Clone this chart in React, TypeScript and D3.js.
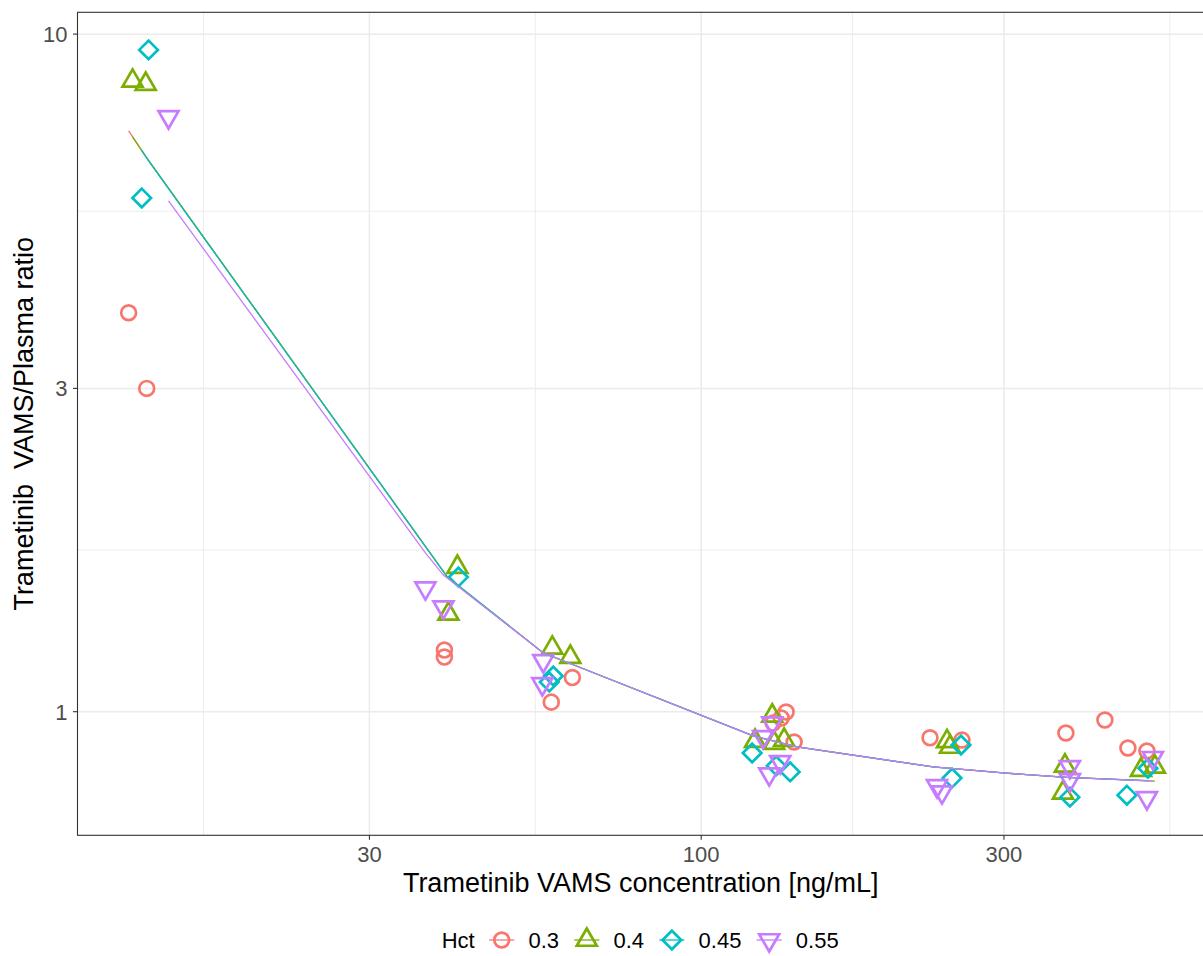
import React from 'react';
import * as d3 from 'd3';

// ---------- data ----------
const hctLevels = ['0.3', '0.4', '0.45', '0.55'];
const hctColors = ['#F8766D', '#7CAE00', '#00BFC4', '#C77CFF'];
const hctShapes = ['circle', 'triangle', 'diamond', 'triangleDown'];

// observed points: [VAMS concentration ng/mL, VAMS/Plasma ratio]
const obsHct03: [number, number][] = [
  [12.52, 3.88], [13.37, 3.0], [39.38, 1.233], [39.38, 1.204], [58.04, 1.033], [62.65, 1.123],
  [136.1, 0.999], [133.7, 0.979], [129.8, 0.962], [140.1, 0.902], [229.4, 0.915], [257.6, 0.908],
  [375.6, 0.93], [432.7, 0.972], [470.4, 0.884], [504.0, 0.875],
];
const obsHct04: [number, number][] = [
  [12.7, 8.53], [13.32, 8.44], [41.28, 1.635], [39.96, 1.394], [58.25, 1.242], [62.19, 1.204],
  [129.4, 0.986], [121.6, 0.905], [130.3, 0.899], [135.1, 0.908], [244.0, 0.904], [246.7, 0.887],
  [374.3, 0.832], [371.6, 0.759], [493.2, 0.82], [518.8, 0.829],
];
const obsHct045: [number, number][] = [
  [13.46, 9.478], [13.13, 5.731], [41.43, 1.58], [58.46, 1.129], [57.62, 1.106], [120.3, 0.869],
  [131.3, 0.832], [138.1, 0.815], [256.7, 0.893], [248.5, 0.798], [381.1, 0.748], [468.7, 0.753],
  [505.8, 0.825],
];
const obsHct055: [number, number][] = [
  [14.47, 7.546], [36.76, 1.522], [39.24, 1.427], [56.38, 1.188], [56.18, 1.099], [129.4, 0.962],
  [125.2, 0.918], [133.2, 0.843], [128.0, 0.809], [235.3, 0.777], [239.6, 0.761], [381.1, 0.829],
  [381.1, 0.793], [504.0, 0.746], [515.0, 0.855],
];

// fitted curves (vertices)
const fitHct03: [number, number][] = [
  [12.52, 7.196], [13.37, 6.566], [39.81, 1.58], [56.38, 1.221], [62.42, 1.176], [120.8, 0.921],
  [141.6, 0.887], [232.0, 0.829], [298.9, 0.812], [377.0, 0.8], [504.0, 0.791],
];
const fitHct04: [number, number][] = [
  [12.7, 7.05], [13.32, 6.6], [39.81, 1.58], [56.38, 1.221], [62.42, 1.176], [120.8, 0.921],
  [141.6, 0.887], [232.0, 0.829], [298.9, 0.812], [377.0, 0.8], [518.8, 0.79],
];
const fitHct045: [number, number][] = [
  [13.13, 6.735], [13.46, 6.5], [39.81, 1.58], [56.38, 1.221], [62.42, 1.176], [120.8, 0.921],
  [141.6, 0.887], [232.0, 0.829], [298.9, 0.812], [377.0, 0.8], [505.8, 0.791],
];
const fitHct055: [number, number][] = [
  [14.47, 5.674], [36.76, 1.715], [39.24, 1.591], [56.38, 1.221], [62.42, 1.176], [120.8, 0.921],
  [141.6, 0.887], [232.0, 0.829], [298.9, 0.812], [377.0, 0.8], [515.0, 0.79],
];

const observations = [obsHct03, obsHct04, obsHct045, obsHct055];
const fits = [fitHct03, fitHct04, fitHct045, fitHct055];

const xTicks = [30, 100, 300];
const xMinorTicks = [16.43, 54.77, 173.2, 547.7];
const yTicks = [1, 3, 10];
const yMinorTicks = [1.732, 5.477];

const xDomain = [10.4, 620];
const yDomain = [0.657, 10.77];

const xTitle = 'Trametinib VAMS concentration [ng/mL]';
const yTitle = 'Trametinib  VAMS/Plasma ratio';
const legendTitle = 'Hct';

// ---------- layout ----------
const W = 1203;
const H = 956;
const PL = 77.5;
const PR = 1204;
const PT = 12.3;
const PB = 835.3;
const FONT = '"Liberation Sans", Arial, Helvetica, sans-serif';
const TICK_FS = 22;
const TITLE_FS = 27;
const SIZE = 19.8;
const STROKE = 2.7;

function shapePath(kind: string, s: number): string {
  if (kind === 'circle') {
    const r = 0.375 * s;
    return `M${r},0A${r},${r} 0 1,1 ${-r},0A${r},${r} 0 1,1 ${r},0Z`;
  }
  if (kind === 'diamond') {
    const d = 0.47 * s;
    return `M0,${-d}L${d},0L0,${d}L${-d},0Z`;
  }
  const r = 0.583 * s;
  const hb = 0.505 * s;
  const yc = 0.2916 * s;
  if (kind === 'triangle') return `M0,${-r}L${hb},${yc}L${-hb},${yc}Z`;
  return `M0,${r}L${hb},${-yc}L${-hb},${-yc}Z`;
}

function textWidth(t: string, fs: number): number {
  const w: Record<string, number> = { '.': 0.278, H: 0.722, c: 0.5, t: 0.278 };
  let s = 0;
  for (const ch of t) s += w[ch] ?? 0.556;
  return s * fs;
}

export default function App() {
  const x = d3.scaleLog().domain(xDomain).range([PL, PR]);
  const y = d3.scaleLog().domain(yDomain).range([PB, PT]);
  const line = d3
    .line<[number, number]>()
    .x((d) => x(d[0]))
    .y((d) => y(d[1]));

  // legend layout
  const legY = 940;
  const legendItems: { kc: number; ls: number }[] = [];
  let cursor = 441.7 + textWidth(legendTitle, TICK_FS);
  hctLevels.forEach((lab, i) => {
    const kc = cursor + (i === 0 ? 27 : 27.8);
    const ls = kc + 26.7;
    legendItems.push({ kc, ls });
    cursor = ls + textWidth(lab, TICK_FS);
  });

  return (
    <svg
      width={W}
      height={H}
      style={{ position: 'absolute', left: 0, top: 0, display: 'block' }}
      fontFamily={FONT}
    >
      <rect x={0} y={0} width={W} height={H} fill="#ffffff" />
      <defs>
        <clipPath id="panel">
          <rect x={PL} y={PT} width={PR - PL} height={PB - PT} />
        </clipPath>
      </defs>

      {/* grid */}
      <g>
        {xMinorTicks.map((v) => (
          <line key={'xm' + v} x1={x(v)} x2={x(v)} y1={PT} y2={PB} stroke="#EBEBEB" strokeWidth={0.9} />
        ))}
        {yMinorTicks.map((v) => (
          <line key={'ym' + v} x1={PL} x2={PR} y1={y(v)} y2={y(v)} stroke="#EBEBEB" strokeWidth={0.9} />
        ))}
        {xTicks.map((v) => (
          <line key={'xM' + v} x1={x(v)} x2={x(v)} y1={PT} y2={PB} stroke="#EBEBEB" strokeWidth={1.5} />
        ))}
        {yTicks.map((v) => (
          <line key={'yM' + v} x1={PL} x2={PR} y1={y(v)} y2={y(v)} stroke="#EBEBEB" strokeWidth={1.5} />
        ))}
      </g>

      {/* points and fitted curves */}
      <g clipPath="url(#panel)">
        {observations.map((pts, gi) =>
          pts.map((d, i) => (
            <path
              key={gi + '-' + i}
              d={shapePath(hctShapes[gi], SIZE)}
              transform={`translate(${x(d[0])},${y(d[1])})`}
              fill="none"
              stroke={hctColors[gi]}
              strokeWidth={STROKE}
            />
          ))
        )}
        {fits.map((pts, gi) => (
          <path key={'fit' + gi} d={line(pts) || ''} fill="none" stroke={hctColors[gi]} strokeWidth={1.3} />
        ))}
      </g>

      {/* panel border */}
      <rect x={PL} y={PT} width={PR - PL} height={PB - PT} fill="none" stroke="#333333" strokeWidth={1.1} />

      {/* axes */}
      {yTicks.map((v) => (
        <g key={'yt' + v}>
          <line x1={PL - 4.5} x2={PL} y1={y(v)} y2={y(v)} stroke="#333333" strokeWidth={1.1} />
          <text x={PL - 10} y={y(v)} dy="0.36em" textAnchor="end" fontSize={TICK_FS} fill="#4D4D4D">
            {String(v)}
          </text>
        </g>
      ))}
      {xTicks.map((v) => (
        <g key={'xt' + v}>
          <line x1={x(v)} x2={x(v)} y1={PB} y2={PB + 4.5} stroke="#333333" strokeWidth={1.1} />
          <text x={x(v)} y={861.7} textAnchor="middle" fontSize={TICK_FS} fill="#4D4D4D">
            {String(v)}
          </text>
        </g>
      ))}

      {/* titles */}
      <text x={(PL + PR) / 2} y={892} textAnchor="middle" fontSize={TITLE_FS} fill="#000">
        {xTitle}
      </text>
      <text
        transform={`translate(33.3,${(PT + PB) / 2}) rotate(-90)`}
        textAnchor="middle"
        fontSize={TITLE_FS}
        fill="#000"
        style={{ whiteSpace: 'pre' }}
      >
        {yTitle}
      </text>

      {/* legend */}
      <text x={441.7} y={947.5} fontSize={TICK_FS} fill="#000">
        {legendTitle}
      </text>
      {hctLevels.map((lab, i) => (
        <g key={'leg' + lab}>
          <line
            x1={legendItems[i].kc - 12.5}
            x2={legendItems[i].kc + 12.5}
            y1={legY}
            y2={legY}
            stroke={hctColors[i]}
            strokeWidth={1.3}
          />
          <path
            d={shapePath(hctShapes[i], SIZE)}
            transform={`translate(${legendItems[i].kc},${legY})`}
            fill="none"
            stroke={hctColors[i]}
            strokeWidth={STROKE}
          />
          <text x={legendItems[i].ls} y={947.5} fontSize={TICK_FS} fill="#000">
            {lab}
          </text>
        </g>
      ))}
    </svg>
  );
}
